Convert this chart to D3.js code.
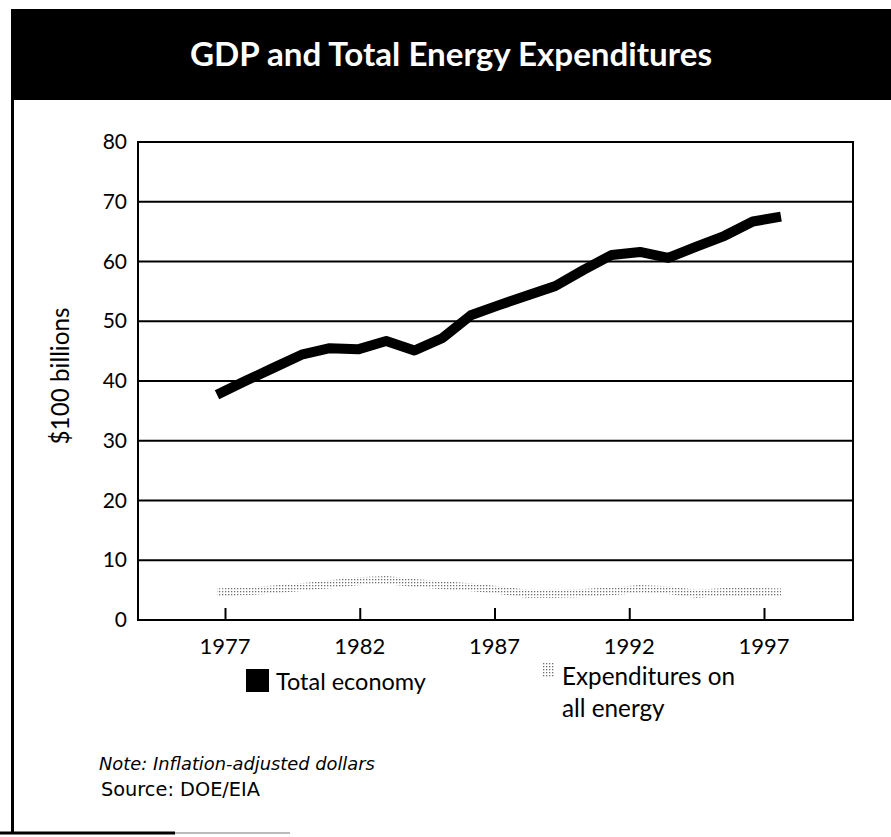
<!DOCTYPE html>
<html>
<head>
<meta charset="utf-8">
<script src="https://cdn.jsdelivr.net/npm/d3@7/dist/d3.min.js"></script>
<style>
  html, body { margin: 0; padding: 0; background: #fff; }
  svg { display: block; }
  text { font-family: Lato, "Noto Sans", sans-serif; fill: #000; }
</style>
</head>
<body>
<svg id="chart" width="891" height="837"></svg>
<script>
// ---- data ----
const years = [1977, 1978, 1979, 1980, 1981, 1982, 1983, 1984, 1985, 1986, 1987,
               1988, 1989, 1990, 1991, 1992, 1993, 1994, 1995, 1996, 1997];
const totalEconomy = [37.7, 40.0, 42.2, 44.4, 45.5, 45.3, 46.7, 45.1, 47.2, 51.0, 52.7,
                      54.3, 55.9, 58.6, 61.1, 61.6, 60.6, 62.5, 64.3, 66.7, 67.5];
const energyExpenditures = [4.6, 4.8, 5.1, 5.5, 6.0, 6.5, 6.7, 6.2, 5.8, 5.5, 5.0,
                            4.4, 4.4, 4.5, 4.8, 5.2, 5.0, 4.4, 4.7, 4.7, 4.6];
const yTicks = [0, 10, 20, 30, 40, 50, 60, 70, 80];
const xTicks = [1977, 1982, 1987, 1992, 1997];
const titleText = "GDP and Total Energy Expenditures";
const yLabel = "$100 billions";
const legendLabels = ["Total economy", "Expenditures on", "all energy"];
const noteText = "Note: Inflation-adjusted dollars";
const sourceText = "Source: DOE/EIA";

// ---- layout ----
const svg = d3.select("#chart");
const plot = { left: 138, right: 853, top: 142, bottom: 620 };

const y = d3.scaleLinear().domain([0, 80]).range([plot.bottom, plot.top]);
const xAxisScale = d3.scaleLinear().domain([1977, 1997]).range([225, 764]);
const xData = d3.scalePoint().domain(years).range([217, 781]);

function fitText(sel, target) {
  const node = sel.node();
  const fs = parseFloat(sel.attr("font-size"));
  const len = node.getComputedTextLength();
  if (len > 0) sel.attr("font-size", (fs * target / len).toFixed(2));
  return sel;
}

// pattern for stippled series
const defs = svg.append("defs");
const pat = defs.append("pattern").attr("id", "dots")
  .attr("patternUnits", "userSpaceOnUse").attr("width", 3).attr("height", 3);
pat.append("rect").attr("x", 0).attr("y", 0).attr("width", 1.3).attr("height", 1.3).attr("fill", "#6e6e6e");

// frame
svg.append("rect").attr("x", 11).attr("y", 9).attr("width", 880).attr("height", 91).attr("fill", "#000");
svg.append("line").attr("x1", 12.5).attr("x2", 12.5).attr("y1", 95).attr("y2", 834)
  .attr("stroke", "#000").attr("stroke-width", 3);
svg.append("line").attr("x1", 0).attr("x2", 175).attr("y1", 833).attr("y2", 833)
  .attr("stroke", "#000").attr("stroke-width", 3);
svg.append("line").attr("x1", 175).attr("x2", 290).attr("y1", 833).attr("y2", 833)
  .attr("stroke", "#bbb").attr("stroke-width", 2);

// title
fitText(svg.append("text").attr("x", 451).attr("y", 66).attr("text-anchor", "middle")
  .attr("font-size", 26).attr("font-weight", 700).style("fill", "#fff").text(titleText), 522);

// gridlines + y axis
const yAxis = d3.axisLeft(y).tickValues(yTicks).tickSize(0).tickPadding(11);
const gy = svg.append("g").attr("transform", `translate(${plot.left},0)`).call(yAxis);
gy.select(".domain").remove();
gy.selectAll("text").attr("font-size", 21).attr("font-family", "Lato, sans-serif").style("fill", "#000");

svg.append("g").selectAll("line").data(yTicks).join("line")
  .attr("x1", plot.left).attr("x2", plot.right)
  .attr("y1", d => y(d)).attr("y2", d => y(d))
  .attr("stroke", "#000").attr("stroke-width", 2);

svg.append("line").attr("x1", plot.left).attr("x2", plot.left)
  .attr("y1", plot.top - 1).attr("y2", plot.bottom + 1).attr("stroke", "#000").attr("stroke-width", 2);
svg.append("line").attr("x1", plot.right).attr("x2", plot.right)
  .attr("y1", plot.top - 1).attr("y2", plot.bottom + 1).attr("stroke", "#000").attr("stroke-width", 2);

// x axis ticks (inward) and labels
const xAxis = d3.axisTop(xAxisScale).tickValues(xTicks).tickSize(12).tickFormat(d3.format("d"));
const gx = svg.append("g").attr("transform", `translate(0,${plot.bottom})`).call(xAxis);
gx.select(".domain").remove();
gx.selectAll(".tick line").attr("stroke", "#000").attr("stroke-width", 2);
gx.selectAll(".tick text").remove();
svg.append("g").selectAll("text").data(xTicks).join("text")
  .attr("x", d => xAxisScale(d)).attr("y", 654).attr("text-anchor", "middle")
  .attr("font-size", 22).text(d3.format("d"));

// y axis title
fitText(svg.append("text").attr("transform", "translate(69,376) rotate(-90)")
  .attr("text-anchor", "middle").attr("font-size", 20).text(yLabel), 137);

// series
const line = (vals) => d3.line().x((d, i) => xData(years[i])).y(d => y(d))(vals);
svg.append("path").attr("d", line(energyExpenditures))
  .attr("fill", "none").attr("stroke", "url(#dots)").attr("stroke-width", 8)
  .attr("stroke-linejoin", "round");
svg.append("path").attr("d", line(totalEconomy))
  .attr("fill", "none").attr("stroke", "#000").attr("stroke-width", 10)
  .attr("stroke-linejoin", "round").attr("stroke-linecap", "butt");

// legend
svg.append("rect").attr("x", 246).attr("y", 669).attr("width", 23).attr("height", 23).attr("fill", "#000");
fitText(svg.append("text").attr("x", 276).attr("y", 690).attr("font-size", 22).text(legendLabels[0]), 150);
svg.append("rect").attr("x", 542).attr("y", 662).attr("width", 13).attr("height", 16).attr("fill", "url(#dots)");
const l2 = fitText(svg.append("text").attr("x", 562).attr("y", 685).attr("font-size", 22).text(legendLabels[1]), 173);
svg.append("text").attr("x", 562).attr("y", 717).attr("font-size", l2.attr("font-size")).text(legendLabels[2]);

// note & source
fitText(svg.append("text").attr("x", 99).attr("y", 770).attr("font-size", 16)
  .style("font-family", "'DejaVu Sans', sans-serif")
  .attr("font-style", "italic").text(noteText), 276);
fitText(svg.append("text").attr("x", 101).attr("y", 796).attr("font-size", 16)
  .style("font-family", "'DejaVu Sans', sans-serif").text(sourceText), 159);
</script>
</body>
</html>
